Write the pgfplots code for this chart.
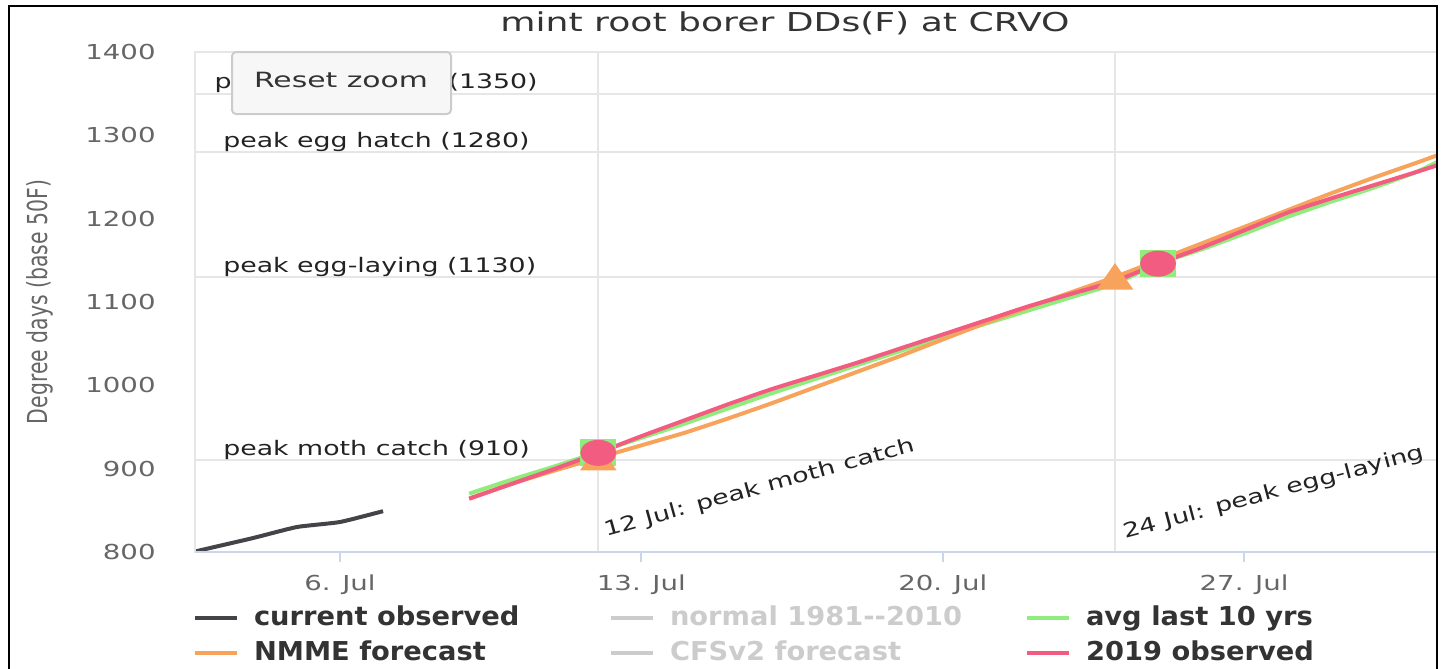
\documentclass[border=0pt]{standalone}
\usepackage{fontspec}
\setmainfont{DejaVu Sans}
\newfontfamily\titlef{DejaVu Sans}[FakeStretch=1.39]
\newfontfamily\tickf{DejaVu Sans}[FakeStretch=1.34]
\newfontfamily\labf{DejaVu Sans}[FakeStretch=1.34]
\newfontfamily\btnf{DejaVu Sans}[FakeStretch=1.42]
\newfontfamily\legf{DejaVu Sans}[FakeStretch=1.05]
\usepackage{pgfplots}
\pgfplotsset{compat=1.18}
\definecolor{cobs}{HTML}{434348}
\definecolor{cgreen}{HTML}{90ED7D}
\definecolor{corange}{HTML}{F7A35C}
\definecolor{cred}{HTML}{F15C80}
\definecolor{chid}{HTML}{CCCCCC}
\definecolor{gridc}{HTML}{E6E6E6}
\definecolor{axisc}{HTML}{CCD6EB}
\definecolor{tickc}{HTML}{666666}
\definecolor{titc}{HTML}{333333}
\definecolor{labc}{HTML}{222222}
\begin{document}
\begin{tikzpicture}
\useasboundingbox (0,0) rectangle (721pt,-334.5pt);
\begin{axis}[
  at={(97.5pt,-276pt)}, anchor=south west,
  scale only axis, width=621pt, height=250pt,
  xmin=2.632, xmax=31.48, ymin=800, ymax=1400,
  axis line style={draw=none},
  /pgf/number format/.cd, 1000 sep={}, assume math mode=true, /pgfplots/.cd,
  xtick={6,13,20,27},
  xticklabels={6. Jul,13. Jul,20. Jul,27. Jul},
  ytick={800,900,1000,1100,1200,1300,1400},
  xtick pos=bottom, ytick pos=left,
  tick align=outside, major tick length=5pt,
  xtick style={draw=axisc, line width=1pt},
  ytick style={draw=none},
  x tick label style={font=\tickf\fontsize{10.3}{12}\selectfont, text=tickc, inner sep=0pt, anchor=base, yshift=-14pt},
  y tick label style={font=\tickf\fontsize{10.3}{12}\selectfont, text=tickc, inner sep=0pt, anchor=east, xshift=-14.5pt},
  extra x ticks={12,24}, extra x tick labels={},
  extra x tick style={grid=major, major grid style={draw=gridc, line width=1pt}, major tick length=0pt, xtick style={draw=none}},
  extra y ticks={910,1130,1280,1350,1400}, extra y tick labels={},
  extra y tick style={grid=major, major grid style={draw=gridc, line width=1pt}, major tick length=0pt},
  legend columns=3,
  legend cell align=left,
  legend style={at={(-0.0016,-0.108)}, anchor=north west, draw=none, fill=none, inner sep=0pt, outer sep=0pt, row sep=6pt,
    nodes={inner sep=0pt, text=titc, font=\legf\bfseries\fontsize{13}{15}\selectfont},
    /tikz/every odd column/.append style={column sep=7.5pt}},
  legend image code/.code={\draw[#1, line width=2pt] (0pt,-0.5pt) -- (21pt,-0.5pt);},
]
% current observed
\addplot[cobs, line width=2pt, smooth, tension=0.3, forget plot] coordinates {
(2,793) (3,805) (4,817) (5,830) (6,836) (7,849)};
% avg last 10 yrs
\addplot[cgreen, line width=2pt, smooth, tension=0.3, forget plot,
  mark=square*, mark size=5.75pt, mark indices={4,17}, mark options={xscale=1.4, solid}] coordinates {
(9,870) (10,887) (11,903) (12,920) (13,937) (14,954) (15,972) (16,990) (17,1007) (18,1024)
(19,1041) (20,1058) (21,1074) (22,1090) (23,1106) (24,1122) (25,1146) (26,1163) (27,1182)
(28,1202) (29,1220) (30,1237) (31,1256) (31.48,1268)};
% NMME forecast
\addplot[corange, line width=2pt, smooth, tension=0.3, forget plot,
  mark=triangle*, mark size=7pt, mark indices={4,16}, mark options={xscale=1.2, yshift=-1.8pt, solid}] coordinates {
(9,864) (10,882) (11,898) (12,913) (13,928) (14,943) (15,960) (16,978) (17,997) (18,1016)
(19,1035) (20,1055) (21,1075) (22,1094) (23,1112) (24,1130) (25,1150) (26,1170) (27,1190)
(28,1210) (29,1230) (30,1249) (31,1267) (31.48,1276)};
% 2019 observed
\addplot[cred, line width=2pt, smooth, tension=0.3, forget plot,
  mark=*, mark size=5.5pt, mark indices={4,17}, mark options={xscale=1.45, solid}] coordinates {
(9,864) (10,882) (11,900) (12,919) (13,939) (14,958) (15,977) (16,995) (17,1011) (18,1027)
(19,1044) (20,1061) (21,1078) (22,1095) (23,1110) (24,1125) (25,1146) (26,1165) (27,1186)
(28,1207) (29,1224) (30,1240) (31,1256) (31.48,1264)};
\addlegendimage{cobs}
\addlegendentry{\makebox[177.5pt][l]{current observed}}
\addlegendimage{chid}
\addlegendentry{\makebox[177.5pt][l]{\textcolor{chid}{normal 1981--2010}}}
\addlegendimage{cgreen}
\addlegendentry{\makebox[177.5pt][l]{avg last 10 yrs}}
\addlegendimage{corange}
\addlegendentry{\makebox[177.5pt][l]{NMME forecast}}
\addlegendimage{chid}
\addlegendentry{\makebox[177.5pt][l]{\textcolor{chid}{CFSv2 forecast}}}
\addlegendimage{cred}
\addlegendentry{\makebox[177.5pt][l]{2019 observed}}
% plot line labels
\node[anchor=base west, inner sep=0pt, text=labc, font=\labf\fontsize{10}{12}\selectfont] at (axis cs:3.28,916) {peak moth catch (910)};
\node[anchor=base west, inner sep=0pt, text=labc, font=\labf\fontsize{10}{12}\selectfont] at (axis cs:3.28,1136) {peak egg-laying (1130)};
\node[anchor=base west, inner sep=0pt, text=labc, font=\labf\fontsize{10}{12}\selectfont] at (axis cs:3.28,1286) {peak egg hatch (1280)};
\node[anchor=base east, inner sep=0pt, text=labc, font=\labf\fontsize{10}{12}\selectfont] at (axis cs:10.6,1356) {peak larva hatch (1350)};
\node[anchor=base west, inner sep=0pt, rotate=15.5, text=labc, font=\labf\fontsize{10}{12}\selectfont] at (axis cs:12.18,818) {12 Jul: peak moth catch};
\node[anchor=base west, inner sep=0pt, rotate=15, text=labc, font=\labf\fontsize{10}{12}\selectfont] at (axis cs:24.23,816) {24 Jul: peak egg-laying};
\end{axis}
\begin{scope}[x=0.5pt, y=-0.5pt]
% plot box edges
\draw[gridc, line width=1pt] (195,552) -- (195,52) -- (1437,52);
\draw[axisc, line width=1pt] (195,552) -- (1437,552);
% reset zoom button
\draw[chid, fill={rgb,255:red,247;green,247;blue,247}, line width=1pt, rounded corners=2pt] (232,52) rectangle (451,114);
\node[inner sep=0pt, anchor=base, text=titc, font=\btnf\fontsize{10.5}{12}\selectfont] at (341,87) {Reset zoom};
% title
\node[inner sep=0pt, anchor=base, text=titc, font=\titlef\fontsize{13}{15}\selectfont] at (785,32) {mint root borer DDs(F) at CRVO};
% y axis title
\node[inner sep=0pt, rotate=90, text=tickc, font=\fontsize{10.2}{12}\selectfont] at (40,302) {\scalebox{1}[1.35]{Degree days (base 50F)}};
% frame
\draw[black, line width=1.2pt] (9,669) -- (9,6) -- (1437,6) -- (1437,669);
\end{scope}
\end{tikzpicture}
\end{document}
